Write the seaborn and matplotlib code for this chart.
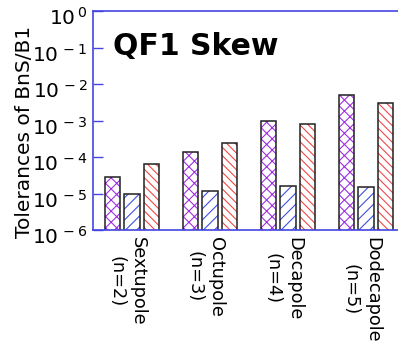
import numpy as np
import pandas as pd
import seaborn as sns
from matplotlib import pyplot as plt
from matplotlib import transforms
from matplotlib.ticker import FuncFormatter

# values (log axis)
multipoles = ["Sextupole\n(n=2)", "Octupole\n(n=3)", "Decapole\n(n=4)", "Dodecapole\n(n=5)"]
series_names = ["set A", "set B", "set C"]
set_a = [2.8e-5, 1.4e-4, 1.0e-3, 5.1e-3]
set_b = [9.8e-6, 1.2e-5, 1.6e-5, 1.55e-5]
set_c = [6.4e-5, 2.5e-4, 8.3e-4, 3.0e-3]
y_ticks = [1e-6, 1e-5, 1e-4, 1e-3, 1e-2, 1e-1, 1]

hatch_colors = ["#a030e0", "#4050e0", "#f04848"]
hatches = ["xxx", "///", "\\\\\\\\"]
spine_color = "#4444e4"

plt.rcParams.update({
    "font.family": ["DejaVu Sans"],
    "hatch.linewidth": 0.8,
})

df = pd.DataFrame({
    "multipole": multipoles * 3,
    "tol": set_a + set_b + set_c,
    "series": np.repeat(series_names, len(multipoles)),
})

fig = plt.figure(figsize=(3.98, 3.47), dpi=100)
ax = fig.add_axes([0.2337, 0.337, 0.784, 0.631])
ax.set_yscale("log")

# hatch layer
sns.barplot(data=df, x="multipole", y="tol", hue="series", order=multipoles,
            hue_order=series_names, width=0.75, gap=0.2, legend=False,
            palette=["white"] * 3, ax=ax)
for k, cont in enumerate(ax.containers):
    for bar in cont:
        bar.set_hatch(hatches[k])
        bar.set_edgecolor(hatch_colors[k])
        bar.set_linewidth(0)
        bar.set_facecolor("white")

# outline layer
n_before = len(ax.containers)
sns.barplot(data=df, x="multipole", y="tol", hue="series", order=multipoles,
            hue_order=series_names, width=0.75, gap=0.2, legend=False,
            fill=False, color="black", linewidth=1.1, ax=ax)
for cont in ax.containers[n_before:]:
    for bar in cont:
        bar.set_edgecolor("#202020")
        bar.set_facecolor("none")
        bar.set_linewidth(1.1)

ax.set_ylim(1e-6, 1)
ax.set_xlim(-0.5, 3.5)
ax.set_xlabel("")
ax.set_ylabel("Tolerances of BnS/B1", fontsize=14.5)
ax.yaxis.set_label_coords(-0.19, 0.45)
ax.set_yticks(y_ticks)
ax.yaxis.set_major_formatter(
    FuncFormatter(lambda v, p: r"$\mathregular{10^{\,%d}}$" % int(round(np.log10(v)))))
ax.minorticks_off()
ax.tick_params(axis="y", direction="in", length=7, width=1, color=spine_color,
               labelsize=14.5, pad=4)
ax.tick_params(axis="x", length=0, labelsize=12.8, pad=5)

shift_y = transforms.ScaledTranslation(0, -5 / 100, fig.dpi_scale_trans)
for lab in ax.get_yticklabels():
    lab.set_transform(lab.get_transform() + shift_y)

shift_x = transforms.ScaledTranslation(-5 / 100, 0, fig.dpi_scale_trans)
for lab in ax.get_xticklabels():
    lab.set_rotation(-90)
    lab.set_ha("center")
    lab.set_va("top")
    lab.set_multialignment("center")
    lab.set_linespacing(1.25)
    lab.set_transform(lab.get_transform() + shift_x)

for s in ["left", "bottom", "top"]:
    ax.spines[s].set_color(spine_color)
    ax.spines[s].set_linewidth(1.2)
ax.spines["right"].set_visible(False)

ax.text(0.064, 0.84, "QF1 Skew", transform=ax.transAxes, fontsize=21.5,
        fontweight="bold", va="center", ha="left")

fig.savefig("out.png", dpi=100)
